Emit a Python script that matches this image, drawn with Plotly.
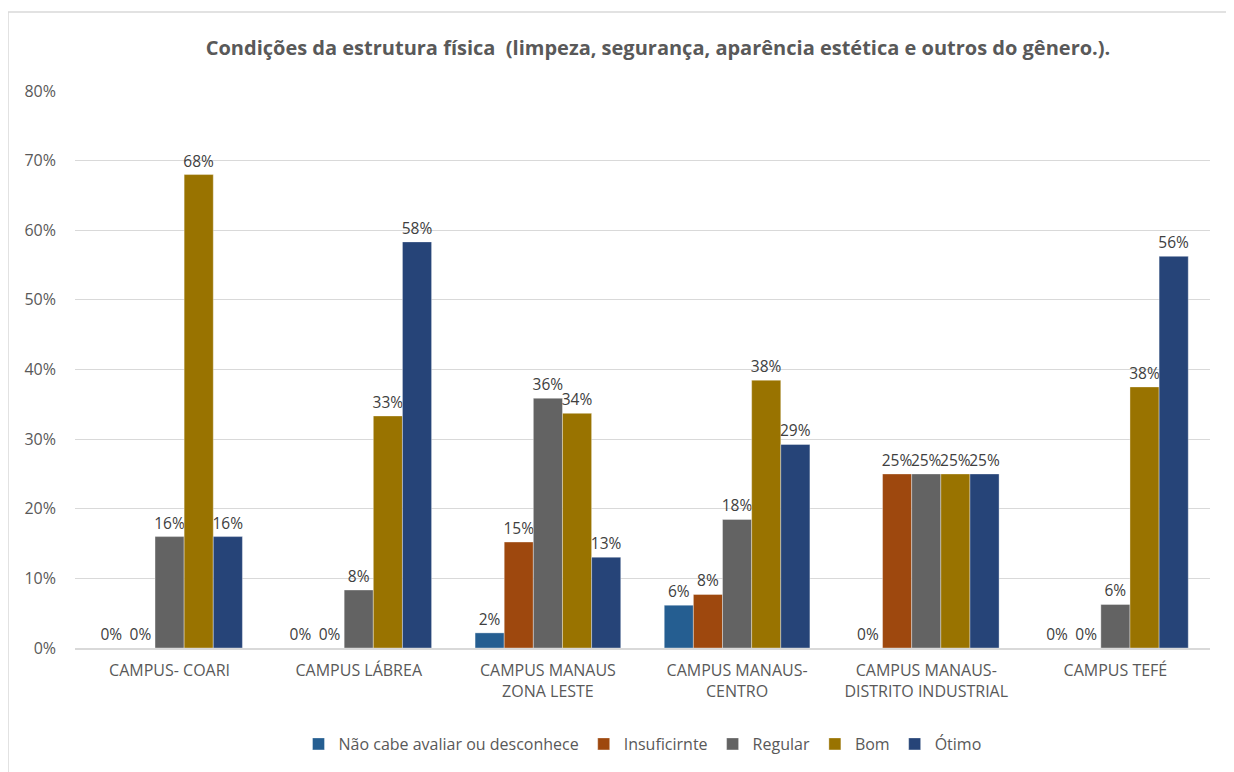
import plotly.graph_objects as go

campi = [
    "CAMPUS- COARI",
    "CAMPUS LÁBREA",
    "CAMPUS MANAUS<br>ZONA LESTE",
    "CAMPUS MANAUS-<br>CENTRO",
    "CAMPUS MANAUS-<br>DISTRITO INDUSTRIAL",
    "CAMPUS TEFÉ",
]

nao_cabe = [0.0, 0.0, 0.0217, 0.0615, 0.0, 0.0]
insuficirnte = [0.0, 0.0, 0.1522, 0.0769, 0.25, 0.0]
regular = [0.16, 0.0833, 0.3587, 0.1846, 0.25, 0.0625]
bom = [0.68, 0.3333, 0.3370, 0.3846, 0.25, 0.375]
otimo = [0.16, 0.5833, 0.1304, 0.2923, 0.25, 0.5625]

series = [
    ("Não cabe avaliar ou desconhece", nao_cabe, "#255E91"),
    ("Insuficirnte", insuficirnte, "#9E480E"),
    ("Regular", regular, "#636363"),
    ("Bom", bom, "#997300"),
    ("Ótimo", otimo, "#264478"),
]

font = "'Open Sans', sans-serif"
grey = "#595959"

fig = go.Figure()
for name, vals, color in series:
    fig.add_trace(go.Bar(
        x=campi, y=vals, name=name,
        marker=dict(color=color, line=dict(color="rgba(255,255,255,0.6)", width=0.6)),
        texttemplate="%{y:.0%}", textposition="outside",
        textfont=dict(size=15.5, color="#404040", family=font),
        constraintext="none", cliponaxis=False,
    ))

# page body adds an 8px offset, so positions below are shifted by -8
W, H = 1234, 772
off = 8
ml, mr, mt, mb = 75 - off, W - 1210 + off, 91 - off, H - 648 + off
pw, ph = W - ml - mr, H - mt - mb

fig.update_layout(
    width=W, height=H,
    margin=dict(l=ml, r=mr, t=mt, b=mb),
    paper_bgcolor="white", plot_bgcolor="white",
    font=dict(family=font, color=grey, size=16),
    barmode="group", bargap=0.23, bargroupgap=0,
    title=dict(
        text="<b>Condições da estrutura física  (limpeza, segurança, aparência estética e outros do gênero.).</b>",
        x=(658 - off) / W, xanchor="center", y=1 - (48 - off) / H, yanchor="middle",
        font=dict(size=20, color=grey, family=font),
    ),
    legend=dict(
        orientation="h", x=0.5, xanchor="center", y=-(744 - 648) / ph, yanchor="middle",
        font=dict(size=16, color=grey), itemwidth=30, traceorder="normal",
    ),
    xaxis=dict(
        showgrid=False, showline=True, linecolor="#d9d9d9", linewidth=1.5,
        tickfont=dict(size=16, color=grey), ticks="", ticklabelstandoff=7,
    ),
    yaxis=dict(
        range=[0, 0.8], dtick=0.1, tickformat=".0%",
        showgrid=True, gridcolor="#d9d9d9", gridwidth=1,
        zeroline=False, showline=False,
        tickfont=dict(size=16, color=grey), ticklabelstandoff=18,
    ),
    shapes=[
        dict(type="line", xref="paper", yref="paper",
             x0=(8 - 75) / pw, x1=(W + 40 - 75) / pw,
             y0=(648 - 12) / ph, y1=(648 - 12) / ph,
             line=dict(color="#d9d9d9", width=1.5), layer="below"),
        dict(type="line", xref="paper", yref="paper",
             x0=(8 - 75) / pw, x1=(8 - 75) / pw,
             y0=(648 - 12) / ph, y1=(648 - (H + 40)) / ph,
             line=dict(color="#d9d9d9", width=1.5), layer="below"),
    ],
)

fig.write_html("out.html")
